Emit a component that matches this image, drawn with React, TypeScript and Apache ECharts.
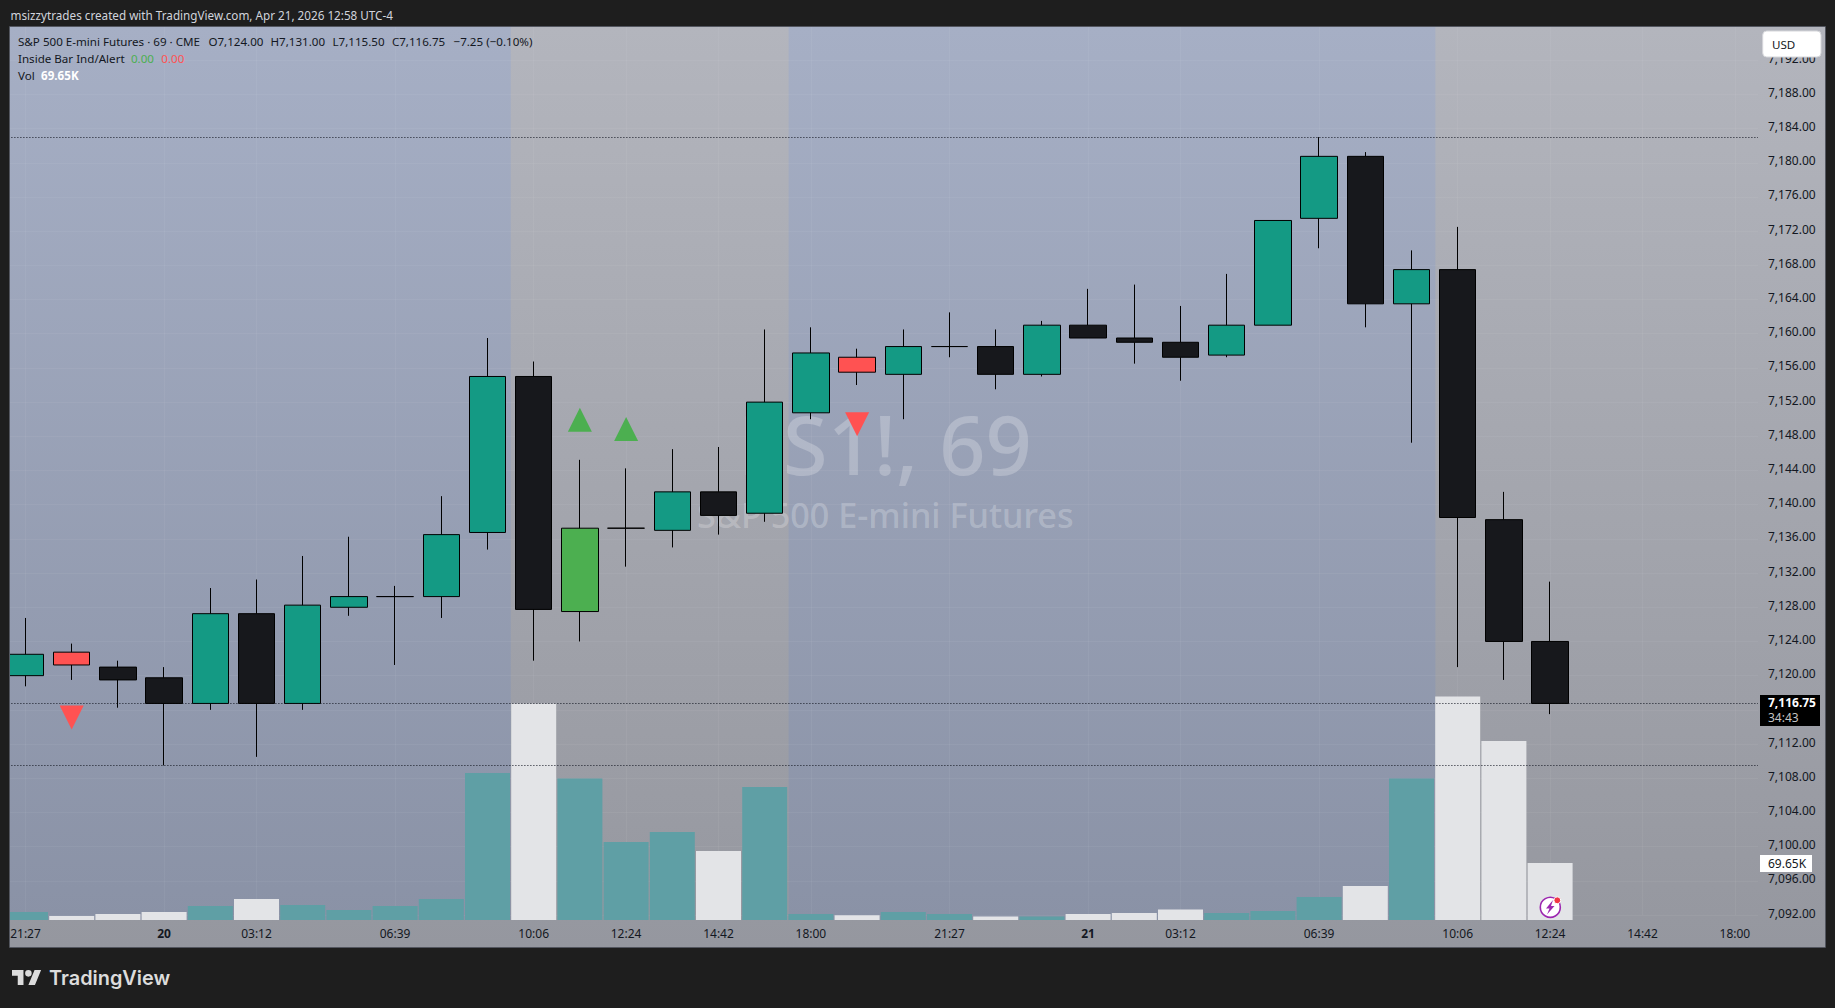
import React, { useEffect, useRef } from "react";
import * as echarts from "echarts";

const categories = ["21:27","22:36","23:45","20","02:03","03:12","04:21","05:30","06:39","07:48","08:57","10:06","11:15","12:24","13:33","14:42","15:51","18:00","19:09","20:18","21:27","22:36","23:45","21","02:03","03:12","04:21","05:30","06:39","07:48","08:57","10:06","11:15","12:24","13:33","14:42","15:51","18:00"];
const labelledBars = [0,3,5,8,11,13,15,17,20,23,25,28,31,33,35,37];
const dayLabels = ["20","21"];

const opens = [7120,7122.75,7121,7119.75,7116.75,7127.25,7116.75,7128,7129.25,7129.25,7136.75,7155,7127.5,7137.25,7137,7141.5,7139,7150.75,7157.25,7155.25,7158.5,7158.5,7155.25,7161,7159.5,7159,7157.5,7161,7173.5,7180.75,7163.5,7167.5,7138.25,7124];
const closes = [7122.5,7121.25,7119.5,7116.75,7127.25,7116.75,7128.25,7129.25,7129.25,7136.5,7155,7127.75,7137.25,7137.25,7141.5,7138.75,7152,7157.75,7155.5,7158.5,7158.5,7155.25,7161,7159.5,7159,7157.25,7161,7173.25,7180.75,7163.5,7167.5,7138.5,7124,7116.75];
const lows = [7118.75,7119.5,7116.25,7109.5,7116,7110.5,7116,7127,7121.25,7126.75,7134.75,7121.75,7124,7132.75,7135,7136.5,7138,7150,7154,7150,7157.25,7153.5,7155,7159.5,7156.5,7154.5,7157.25,7161,7170,7160.75,7147.25,7121,7119.5,7115.5];
const highs = [7126.75,7123.75,7121.75,7121,7130.25,7131.25,7134,7136.25,7130.5,7141,7159.5,7156.75,7145.25,7144.25,7146.5,7146.75,7160.5,7160.75,7158.25,7160.5,7162.5,7160.5,7161.5,7165.25,7165.75,7163.25,7167,7173.25,7183,7181.25,7169.75,7172.5,7141.5,7131];
const volumesK = [9.8,4.9,7.3,9.8,17.1,25.7,18.3,12.2,17.1,25.7,179.7,264.7,173,95.4,107.6,84.4,162.6,7.3,5.7,9.8,7.3,4.3,4.3,7.3,8.6,12.8,8.6,11,28.1,41.6,173,273.2,218.8,69.65];
const whiteVolumeBars = [1,2,3,5,11,15,18,21,23,24,25,29,31,32,33];
const greenInsideBars = [12];
const redInsideBars = [1,18];
const upArrows: [number, number][] = [[12,7149.95],[13,7148.85]];
const downArrows: [number, number][] = [[1,7115.1],[18,7149.4]];
const levelLines = [7183,7116.75,7109.5];
const hiddenTickLabels = [7116];
const yMin = 7092, yMax = 7196, yStep = 4, volMax = 300;

const TEAL = "#149a84", BLACK = "#17181c", GREEN = "#4caf50", RED = "#ff5252";
const INK = "#131722", FONT = "'Noto Sans', sans-serif";

function buildOption() {
  const candle = opens.map((o, i) => {
    const inside = greenInsideBars.includes(i) ? GREEN : redInsideBars.includes(i) ? RED : null;
    const fill = inside || (closes[i] >= o ? TEAL : BLACK);
    return {
      value: [o, closes[i], lows[i], highs[i]],
      itemStyle: { color: fill, color0: fill, borderColor: "#000", borderColor0: "#000", borderColorDoji: "#000", borderWidth: 1 },
    };
  });
  const vol = volumesK.map((v, i) => ({ value: v, itemStyle: { color: whiteVolumeBars.includes(i) ? "#e3e4e7" : "#5f9fa5" } }));
  const txt = (text: string, x: number, y: number, extra: any = {}) => ({
    type: "text", x, y, z: 100, silent: true,
    style: { text, fill: INK, font: `11.6px ${FONT}`, textVerticalAlign: "middle", ...extra },
  });
  const blue = (x: number, w: number) => ({
    type: "rect", z: -5, silent: true, shape: { x, y: 27, width: w, height: 893 },
    style: { fill: new echarts.graphic.LinearGradient(0, 0, 0, 1, [{ offset: 0, color: "#a6afc5" }, { offset: 1, color: "#8a92a6" }]) },
  });
  const dark = "#1e1e1e";
  const mask = (x: number, y: number, width: number, height: number) => ({ type: "rect", z: 90, silent: true, shape: { x, y, width, height }, style: { fill: dark } });
  const graphic = [
    { type: "rect", z: -10, silent: true, shape: { x: 0, y: 0, width: 1835, height: 1008 }, style: { fill: dark } },
    { type: "rect", z: -9, silent: true, shape: { x: 10, y: 27, width: 1815, height: 920 },
      style: { fill: new echarts.graphic.LinearGradient(0, 0, 0, 1, [{ offset: 0, color: "#b3b5bd" }, { offset: 1, color: "#95979f" }]) } },
    blue(10, 500.8), blue(788.6, 646.8),
    { type: "text", x: 738, y: 443, z: 1, silent: true, style: { text: "ES1!, 69", fill: "rgba(255,255,255,0.24)", font: `500 81px ${FONT}`, textVerticalAlign: "middle" } },
    { type: "text", x: 697, y: 514, z: 1, silent: true, style: { text: "S&P 500 E-mini Futures", fill: "rgba(255,255,255,0.24)", font: `500 34.2px ${FONT}`, textVerticalAlign: "middle" } },
    mask(0, 0, 9, 1008), mask(0, 0, 1835, 26), mask(0, 948, 1835, 60), mask(1826, 0, 9, 1008),
    { type: "rect", z: 91, silent: true, shape: { x: 9.5, y: 26.5, width: 1816, height: 921 }, style: { fill: "none", stroke: "#53565f", lineWidth: 1 } },
    txt("msizzytrades created with TradingView.com, Apr 21, 2026 12:58 UTC-4", 10.5, 15, { fill: "#d1d4dc", font: `11.7px ${FONT}` }),
    txt("S&P 500 E-mini Futures · 69 · CME", 18, 41.5),
    txt("O7,124.00", 208.4, 41.5), txt("H7,131.00", 270.5, 41.5), txt("L7,115.50", 332.5, 41.5), txt("C7,116.75", 391.9, 41.5), txt("−7.25 (−0.10%)", 453.5, 41.5),
    txt("Inside Bar Ind/Alert", 18, 58.5), txt("0.00", 130.9, 58.5, { fill: GREEN }), txt("0.00", 161.3, 58.5, { fill: RED }),
    txt("Vol", 18, 75.5), txt("69.65K", 41.1, 75.5, { fill: "#fff", font: `bold 11.6px ${FONT}` }),
    { type: "rect", z: 95, silent: true, shape: { x: 1762.7, y: 31, width: 58.3, height: 26, r: 4 }, style: { fill: "#fff", stroke: "#d5d6da", lineWidth: 1 } },
    txt("USD", 1772, 44.5),
    { type: "rect", z: 95, silent: true, shape: { x: 1760, y: 695, width: 60, height: 31 }, style: { fill: "#000" } },
    txt("7,116.75", 1768, 702.5, { fill: "#fff", font: `bold 12px ${FONT}` }), txt("34:43", 1768, 717, { fill: "#c4c4c4" , font: `12px ${FONT}`}),
    { type: "rect", z: 95, silent: true, shape: { x: 1760, y: 855, width: 52, height: 17 }, style: { fill: "#fff" } },
    txt("69.65K", 1768, 863.5, { font: `12px ${FONT}` }),
    { type: "circle", z: 95, silent: true, shape: { cx: 1550.3, cy: 907.3, r: 10 }, style: { fill: "#fff", stroke: "#9c27b0", lineWidth: 1.6 } },
    { type: "polygon", z: 96, silent: true, shape: { points: [[1553,900],[1546,908.5],[1549.5,908.5],[1547,914.5],[1554.5,906],[1551,906]] } , style: { fill: "#9c27b0" } },
    { type: "circle", z: 97, silent: true, shape: { cx: 1557.3, cy: 900.3, r: 3.4 }, style: { fill: "#f23645", stroke: "#fff", lineWidth: 1 } },
    { type: "tvlogo", z: 100, silent: true, x: 12, y: 966.7, scaleX: 0.82, scaleY: 0.833, style: { fill: "#dcdcdc" } },
    txt("TradingView", 49, 977.5, { fill: "#dcdcdc", font: `600 19.9px Inter, ${FONT}` }),
  ];
  const showLabel = (i: number) => labelledBars.includes(i);
  return {
    animation: false,
    backgroundColor: "transparent",
    textStyle: { fontFamily: FONT },
    graphic,
    grid: [
      { left: 2.4, width: 1755.6, top: 26, height: 889 },
      { left: 2.4, width: 1755.6, top: 674.6, height: 245.4 },
    ],
    xAxis: [
      { type: "category", gridIndex: 0, data: categories, axisLine: { show: false }, axisTick: { show: false }, axisLabel: { show: false },
        splitLine: { show: true, interval: showLabel, alignWithLabel: true, lineStyle: { color: "rgba(255,255,255,0.05)", width: 1 } } },
      { type: "category", gridIndex: 1, data: categories, axisLine: { show: false }, axisTick: { show: false },
        axisLabel: { show: true, interval: showLabel, margin: 7, color: INK, fontSize: 12, fontFamily: FONT,
          formatter: (v: string) => (dayLabels.includes(v) ? `{d|${v}}` : v), rich: { d: { fontWeight: "bold", fontSize: 12, color: INK, fontFamily: FONT } } },
        splitLine: { show: false } },
    ],
    yAxis: [
      { type: "value", gridIndex: 0, position: "right", min: yMin, max: yMax, interval: yStep, axisLine: { show: false }, axisTick: { show: false },
        axisLabel: { show: true, showMaxLabel: false, margin: 10, align: "left", verticalAlign: "bottom", lineHeight: 4, color: INK, fontSize: 12, fontFamily: FONT,
          formatter: (v: number) => hiddenTickLabels.includes(v) ? "" : v.toLocaleString("en-US", { minimumFractionDigits: 2, maximumFractionDigits: 2 }) },
        splitLine: { show: true, lineStyle: { color: "rgba(255,255,255,0.05)", width: 1 } } },
      { type: "value", gridIndex: 1, min: 0, max: volMax, show: false, splitLine: { show: false } },
    ],
    series: [
      { type: "bar", name: "Vol", xAxisIndex: 1, yAxisIndex: 1, data: vol, barWidth: 45, z: 2, silent: true },
      { type: "candlestick", name: "ES1!", xAxisIndex: 0, yAxisIndex: 0, data: candle, barWidth: 37, z: 3, silent: true,
        markLine: { silent: true, symbol: "none", z: 3, label: { show: false }, lineStyle: { color: INK, width: 1, type: [1, 2] }, data: levelLines.map((v) => ({ yAxis: v })) } },
      { type: "scatter", name: "Inside up", xAxisIndex: 0, yAxisIndex: 0, data: upArrows, symbol: "triangle", symbolSize: [24, 24], itemStyle: { color: GREEN, opacity: 1 }, z: 4, silent: true },
      { type: "scatter", name: "Inside down", xAxisIndex: 0, yAxisIndex: 0, data: downArrows, symbol: "triangle", symbolRotate: 180, symbolSize: [24, 24], itemStyle: { color: RED, opacity: 1 }, z: 4, silent: true },
    ],
  };
}

export default function App() {
  const ref = useRef<HTMLDivElement>(null);
  useEffect(() => {
    echarts.graphic.registerShape("tvlogo", echarts.graphic.extendPath(
      "M14 22H7V11H0V4h14v18zM28 22h-8l7.5-18h8L28 22zM24 8a4 4 0 1 1-8 0a4 4 0 1 1 8 0z" as any, {} as any) as any);
    const chart = echarts.init(ref.current!, undefined, { renderer: "svg", width: 1835, height: 1008 });
    chart.setOption(buildOption() as any);
    return () => chart.dispose();
  }, []);
  return <div ref={ref} style={{ position: "absolute", left: 0, top: 0, width: 1835, height: 1008 }} />;
}
